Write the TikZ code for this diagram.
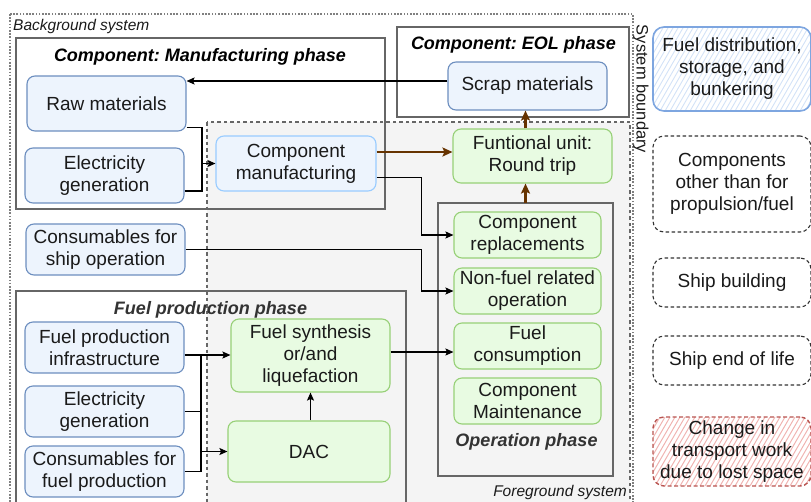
\documentclass[tikz,border=0pt]{standalone}
\usepackage{fontspec}
\setmainfont{Liberation Sans}
\usetikzlibrary{arrows.meta,calc}
\definecolor{bbord}{HTML}{6C8EBF}
\definecolor{bfill}{HTML}{EDF4FD}
\definecolor{lbord}{HTML}{99CCFF}
\definecolor{gbord}{HTML}{97D077}
\definecolor{gfill}{HTML}{E8FBE2}
\definecolor{phasec}{HTML}{666666}
\definecolor{fgfill}{HTML}{F4F4F4}
\definecolor{brownc}{HTML}{663300}
\definecolor{redb}{HTML}{B85450}
\definecolor{redh}{HTML}{F0B4B2}
\definecolor{blueb}{HTML}{7EA6E0}
\definecolor{blueh}{HTML}{D3E2F7}
\definecolor{txt}{HTML}{1A1A1A}
\definecolor{ttl}{HTML}{333333}
\frenchspacing
\begin{document}
\begin{tikzpicture}[x=1pt,y=-1pt,
  sz/.style n args={2}{minimum width=#1pt,minimum height=#2pt},
  box/.style={rounded corners=8pt, line width=1.1pt, align=center, inner sep=0pt, text=txt,
    font=\fontsize{19}{22}\selectfont},
  bluebox/.style={box, draw=bbord, fill=bfill},
  lbluebox/.style={box, draw=lbord, fill=bfill},
  greenbox/.style={box, draw=gbord, fill=gfill},
  sidebox/.style={box, rounded corners=11pt, draw=ttl, dash pattern=on 3.5pt off 2.5pt, line width=1.1pt},
  phaserect/.style={draw=phasec, line width=1.4pt},
  phasetitle/.style={font=\fontsize{18}{22}\selectfont\bfseries\itshape, inner sep=0pt},
  smalllabel/.style={font=\fontsize{15.5}{18}\selectfont\itshape, inner sep=0pt, text=txt},
  arr/.style={line width=1.2pt, -{Stealth[length=8pt,width=7pt,inset=1.5pt]}},
  ln/.style={line width=1.2pt},
  brarr/.style={draw=brownc, line width=2.2pt, -{Stealth[length=10pt,width=9pt,inset=2pt]}}
]
\useasboundingbox (0,0) rectangle (811,501);
\clip (0,0) rectangle (811,501);

% system boundary and foreground
\draw[draw=gray, line width=1.6pt, dash pattern=on 1.6pt off 1.6pt] (10,14) rectangle (633,515);
\node[smalllabel, anchor=west] (bglabel) at (13,26) {Background system};
\draw[draw=phasec, fill=fgfill, line width=1.1pt, dash pattern=on 3.5pt off 3pt] (207,122) rectangle (630,515);
\node[smalllabel, anchor=east] (fglabel) at (627,492) {Foreground system};
\node[rotate=-90, inner sep=0pt, text=txt, font=\fontsize{16.5}{20}\selectfont] (sblabel) at (641,89) {System boundary};

% phase frames
\draw[phaserect] (16,38) rectangle (385,209);
\node[phasetitle, text=black] (mantitle) at (200,57) {Component: Manufacturing phase};
\draw[phaserect, fill=white] (397,27) rectangle (629,117);
\node[phasetitle, text=black] (eoltitle) at (513.5,45) {Component: EOL phase};
\draw[phaserect] (16,291) rectangle (406,515);
\node[phasetitle, text=ttl] (fptitle) at (210.5,310) {Fuel production phase};
\draw[phaserect] (438,203) rectangle (613,476);
\node[coordinate] (op) at (525.5,203) {};
\node[phasetitle, text=ttl] (optitle) at (526.5,442) {Operation phase};

% boxes
\node[bluebox, sz={159}{55}] (raw) at (106.5,103.5) {Raw materials};
\node[bluebox, sz={159}{55}] (elec1) at (104.5,175.5) {Electricity\\generation};
\node[lbluebox, sz={160}{55}] (cman) at (296,163.5) {Component\\manufacturing};
\node[bluebox, sz={159}{48}] (scrap) at (527.5,86) {Scrap materials};
\node[greenbox, sz={159}{54}] (fu) at (532.5,156) {Funtional unit:\\Round trip};
\node[bluebox, sz={159}{51}] (consship) at (105.5,249.5) {Consumables for\\ship operation};
\node[greenbox, sz={147}{46}] (cr) at (527.5,235) {Component\\replacements};
\node[greenbox, sz={147}{46}] (nf) at (527.5,291) {Non-fuel related\\operation};
\node[greenbox, sz={147}{46}] (fc) at (527.5,346) {Fuel\\consumption};
\node[greenbox, sz={147}{46}] (cm) at (527.5,401) {Component\\Maintenance};
\node[bluebox, sz={159}{51}] (fpi) at (104.5,347.5) {Fuel production\\infrastructure};
\node[bluebox, sz={159}{51}] (elec2) at (104.5,411.5) {Electricity\\generation};
\node[bluebox, sz={159}{51}] (cfp) at (104.5,471.5) {Consumables for\\fuel production};
\node[greenbox, sz={159}{73}] (fs) at (310.5,355.5) {Fuel synthesis\\or/and\\liquefaction};
\node[greenbox, sz={162}{61}] (dac) at (309,451.5) {DAC};

% side boxes with hatching
\begin{scope}
  \clip[rounded corners=11pt] (653,27) rectangle (811,111);
  \foreach \i in {590,595,...,815} \draw[blueh, line width=0.9pt] (\i,111) -- (\i+48.5,27);
\end{scope}
\node[box, rounded corners=11pt, sz={158}{84}, draw=blueb, line width=1.6pt] (fd) at (732,69)
  {Fuel distribution,\\storage, and\\bunkering};
\node[sidebox, sz={158}{96}] (comp) at (732,184) {Components\\other than for\\propulsion/fuel};
\node[sidebox, sz={158}{49}] (sb) at (732,282.5) {Ship building};
\node[sidebox, sz={158}{49}] (seol) at (732,360.5) {Ship end of life};
\begin{scope}
  \clip[rounded corners=11pt] (653,417) rectangle (811,486);
  \foreach \i in {600,605,...,815} \draw[redh, line width=1pt] (\i,486) -- (\i+40,417);
\end{scope}
\node[box, rounded corners=11pt, sz={158}{69}, draw=redb, line width=1.4pt, dash pattern=on 4pt off 2.5pt]
  (ct) at (732,451.5) {Change in\\transport work\\due to lost space};

% connectors
\draw[arr] ([yshift=5pt]scrap.west) -- ([yshift=5pt]scrap.west -| raw.east);
\coordinate (j1) at (202,163.5);
\draw[ln] ([yshift=-24pt]raw.east) -| (j1);
\draw[ln] ([yshift=-15.5pt]elec1.east) -| (j1);
\draw[arr] (j1) -- (cman.west);
\draw[brarr] ([yshift=11.5pt]cman.east) -- ([yshift=11.5pt]cman.east -| fu.west);
\draw[brarr] (fu.north -| op) -- (scrap.south -| op);
\draw[brarr] (op) -- (op |- fu.south);
\draw[arr] ([yshift=-14pt]cman.east) -| ($(cr.west)+(-32,0)$) -- (cr.west);
\draw[arr] (consship.east) -| ($(nf.west)+(-32,0)$) -- (nf.west);
\draw[arr] ([yshift=3.5pt]fs.east) -- ([yshift=3.5pt]fs.east -| fc.west);
\coordinate (j2) at (201,355);
\draw[ln] ([yshift=-7.5pt]fpi.east) -- (j2);
\draw[ln] (elec2.east) -- (elec2.east -| j2);
\draw[ln] (cfp.east) -| (j2);
\draw[arr] (j2) -- (j2 -| fs.west);
\draw[arr] (dac.west -| j2) -- (dac.west);
\draw[arr] (dac.north -| fs.south) -- (fs.south);
\end{tikzpicture}
\end{document}
